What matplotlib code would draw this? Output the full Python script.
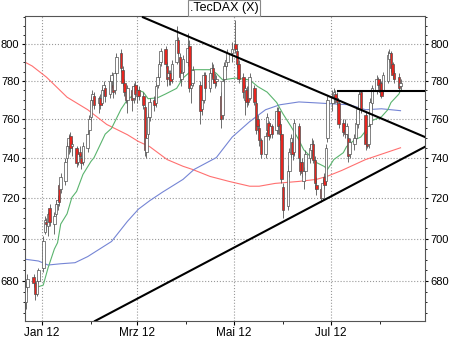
import matplotlib
matplotlib.use('Agg')
import matplotlib.pyplot as plt
import matplotlib.dates as mdates
import matplotlib.ticker as mticker
import pandas as pd

plt.rcParams['font.family'] = ['Liberation Sans', 'DejaVu Sans']

# trading days (Xetra holidays removed)
holidays = ['2011-12-26', '2012-04-06', '2012-04-09', '2012-05-01']

# daily OHLC, Dec 22 2011 .. Aug 14 2012, one line per month
opens = [670, 677, 682, 679, 674, 680,
         686, 703, 708, 706, 715, 707, 712, 717, 726, 724, 728, 740, 746, 751, 746, 745, 738, 743, 740, 738, 745, 754,
         761, 770, 772, 768, 771, 768, 775, 776, 773, 780, 778, 775, 784, 795, 786, 779, 774, 770, 775, 771, 778,
         772, 775, 772, 766, 743, 752, 761, 770, 768, 778, 782, 790, 797, 788, 782, 784, 781, 790, 802, 793, 781, 785,
         790, 799, 776, 779, 778, 765, 770, 783, 776, 784, 787, 781, 780, 772, 762, 781, 788, 790, 795,
         800, 796, 789, 782, 770, 775, 775, 771, 776, 768, 760, 755, 749, 742, 754, 758, 752, 756, 754, 764, 757, 752,
         725, 716, 733, 742, 748, 743, 756, 738, 738, 728, 733, 740, 744, 747, 739, 726, 724, 720, 730, 728, 750,
         768, 772, 773, 771, 768, 758, 754, 752, 750, 742, 747, 750, 757, 765, 774, 762, 752, 747, 757, 768, 775, 781,
         779, 779, 775, 780, 792, 795, 789, 784, 782, 777]
highs = [680, 683, 683, 680, 681, 686,
         701, 711, 710, 713, 717, 713, 719, 721, 727, 732, 740, 748, 752, 753, 749, 746, 744, 746, 742, 748, 754, 762,
         772, 775, 774, 772, 773, 777, 780, 778, 782, 785, 781, 786, 795, 797, 788, 781, 776, 778, 777, 779, 780,
         778, 777, 774, 767, 752, 763, 771, 772, 779, 784, 791, 798, 799, 790, 786, 786, 791, 810, 804, 795, 786, 794,
         806, 802, 779, 788, 780, 772, 785, 785, 786, 790, 789, 784, 783, 774, 782, 790, 793, 797, 801,
         813, 798, 791, 784, 778, 777, 777, 784, 778, 770, 762, 757, 750, 753, 763, 759, 758, 757, 766, 766, 759, 754,
         727, 736, 745, 752, 751, 760, 758, 740, 740, 735, 744, 747, 750, 749, 741, 730, 725, 729, 732, 747, 772,
         775, 776, 775, 774, 770, 760, 760, 758, 752, 750, 752, 760, 767, 775, 775, 764, 754, 758, 771, 778, 783, 782,
         781, 780, 785, 796, 797, 796, 790, 786, 784, 781]
lows = [667, 675, 677, 671, 673, 679,
        684, 702, 704, 701, 706, 702, 711, 714, 716, 722, 726, 738, 742, 743, 741, 735, 736, 740, 734, 736, 743, 752,
        759, 766, 765, 763, 765, 767, 772, 769, 771, 776, 771, 773, 783, 785, 777, 772, 768, 763, 764, 768, 770,
        768, 770, 765, 741, 740, 750, 759, 764, 766, 776, 780, 788, 787, 777, 778, 778, 779, 789, 794, 780, 777, 783,
        788, 774, 768, 777, 757, 762, 768, 774, 774, 782, 779, 776, 777, 755, 760, 779, 786, 788, 790,
        795, 787, 779, 771, 762, 766, 767, 770, 767, 752, 753, 746, 740, 740, 752, 749, 750, 750, 752, 752, 749, 727,
        710, 714, 730, 740, 739, 741, 738, 731, 730, 724, 731, 737, 741, 737, 724, 721, 718, 719, 724, 726, 748,
        764, 768, 768, 767, 755, 751, 750, 750, 738, 740, 744, 748, 755, 763, 763, 744, 745, 745, 755, 765, 773, 776,
        772, 771, 773, 779, 790, 785, 781, 779, 774, 775]
closes = [677, 681, 679, 674, 680, 685,
          699, 709, 707, 712, 708, 711, 717, 719, 718, 730, 738, 746, 750, 745, 747, 737, 742, 741, 737, 746, 752, 760,
          770, 773, 767, 771, 767, 775, 778, 772, 780, 783, 774, 784, 793, 787, 779, 774, 770, 776, 770, 777, 773,
          775, 772, 767, 744, 750, 761, 769, 767, 777, 782, 789, 796, 789, 781, 784, 780, 789, 802, 795, 782, 784, 792,
          798, 776, 778, 786, 764, 770, 783, 776, 784, 787, 781, 779, 781, 760, 780, 788, 791, 795, 797,
          797, 789, 781, 774, 776, 769, 769, 782, 769, 754, 756, 749, 742, 751, 761, 751, 756, 752, 764, 756, 752, 729,
          714, 733, 743, 750, 742, 758, 740, 733, 732, 733, 742, 745, 747, 739, 727, 724, 720, 727, 726, 745, 770,
          772, 774, 771, 769, 757, 753, 752, 756, 741, 748, 750, 758, 765, 773, 765, 747, 746, 756, 769, 776, 781, 778,
          774, 772, 783, 794, 795, 787, 783, 781, 776, 779]

# moving averages
ma_short_dates = ['2011-12-29', '2012-01-02', '2012-01-05', '2012-01-09', '2012-01-11', '2012-01-13', '2012-01-17',
                  '2012-01-20', '2012-01-23', '2012-01-27', '2012-02-01', '2012-02-03', '2012-02-10', '2012-02-14',
                  '2012-02-20', '2012-02-24', '2012-02-28', '2012-03-02', '2012-03-05', '2012-03-08', '2012-03-14',
                  '2012-03-19', '2012-03-26', '2012-03-30', '2012-04-05', '2012-04-12', '2012-04-17', '2012-04-20',
                  '2012-04-24', '2012-05-02', '2012-05-11', '2012-05-16', '2012-05-22', '2012-05-28', '2012-06-01',
                  '2012-06-06', '2012-06-11', '2012-06-14', '2012-06-19', '2012-06-22', '2012-06-27', '2012-06-29',
                  '2012-07-03', '2012-07-09', '2012-07-11', '2012-07-16', '2012-07-20', '2012-07-25', '2012-07-27',
                  '2012-08-02', '2012-08-06', '2012-08-08', '2012-08-13', '2012-08-14']
ma_short = [677, 678, 686, 695, 698, 707, 712, 720, 723, 731.5, 738, 740, 752, 755, 765, 770, 772.6, 775, 774, 770.5,
            771, 773, 776, 781.5, 786, 786, 786, 784, 780.5, 781.5, 780.5, 777, 774, 768.5, 762.5, 756, 749, 744, 740,
            737.5, 735.5, 734, 739, 742.5, 745.6, 749, 750.5, 755.8, 759, 761, 764.7, 768.5, 773, 775]

ma_mid_dates = ['2011-12-21', '2011-12-30', '2012-01-05', '2012-01-13', '2012-01-22', '2012-01-30', '2012-02-14',
                '2012-02-24', '2012-03-02', '2012-03-09', '2012-03-17', '2012-03-30', '2012-04-06', '2012-04-20',
                '2012-04-30', '2012-05-11', '2012-05-21', '2012-05-30', '2012-06-11', '2012-06-22', '2012-07-02',
                '2012-07-13', '2012-07-23', '2012-08-02', '2012-08-14']
ma_mid = [690.2, 689.3, 687.4, 688, 688.5, 691.4, 698.6, 708.3, 714.3, 718.4, 722.6, 729, 734, 740, 750.5, 758.5,
          764.7, 767.3, 768.8, 768.3, 767.8, 767.3, 764.7, 765.2, 764.2]

ma_long_dates = ['2011-12-21', '2011-12-26', '2012-01-04', '2012-01-17', '2012-01-30', '2012-02-11', '2012-02-24',
                 '2012-03-02', '2012-03-09', '2012-03-20', '2012-03-30', '2012-04-05', '2012-04-16', '2012-04-28',
                 '2012-05-11', '2012-05-17', '2012-05-27', '2012-06-11', '2012-06-22', '2012-06-29', '2012-07-08',
                 '2012-07-23', '2012-08-14']
ma_long = [790.3, 788, 782, 771.3, 764.7, 757, 751.7, 748.2, 745.6, 739, 735.6, 734, 730.5, 728, 725.6, 725.6, 727,
           728, 729, 730.6, 733.5, 739, 745]

# trend lines (date, level) and resistance
upper_line = [('2012-03-04 19:00', 814.8), ('2012-08-29 10:00', 750.5)]
lower_line = [('2012-02-03 14:00', 661.5), ('2012-08-29 10:00', 745.5)]
resistance_start = '2012-07-05 14:00'
resistance = 774.5

tick_dates = ['2012-01-01', '2012-03-01', '2012-05-01', '2012-07-01']
tick_labels = ['Jan 12', 'Mrz 12', 'Mai 12', 'Jul 12']

days = pd.bdate_range('2011-12-22', '2012-08-14')
days = days[~days.isin(pd.to_datetime(holidays))]
x = mdates.date2num(days.to_pydatetime())
o = pd.Series(opens, dtype=float)
c = pd.Series(closes, dtype=float)

fig = plt.figure(figsize=(4.5, 3.38), dpi=100)
ax = fig.add_axes([25 / 450, 17 / 338, 400 / 450, 305 / 338])
ax.set_yscale('log')

# moving averages
ax.plot(mdates.datestr2num(ma_long_dates), ma_long, color='#ff7070', lw=0.8, zorder=2)
ax.plot(mdates.datestr2num(ma_mid_dates), ma_mid, color='#7585d5', lw=0.8, zorder=2)
ax.plot(mdates.datestr2num(ma_short_dates), ma_short, color='#5ab46e', lw=0.8, zorder=2)

# candles
up = c >= o
body_col = ['white' if u else '#e8251f' for u in up]
ax.vlines(x, lows, highs, color='#555555', lw=0.6, zorder=3)
ax.bar(x, (c - o).abs(), bottom=pd.concat([o, c], axis=1).min(axis=1), width=1.6,
       color=body_col, edgecolor='#505050', linewidth=0.5, zorder=4)

# trend lines
for line in (upper_line, lower_line):
    ax.plot(mdates.datestr2num([p[0] for p in line]), [p[1] for p in line], color='black', lw=1.5, zorder=5)
x0, x1 = mdates.datestr2num(['2011-12-21 12:00', '2012-08-29 10:00'])
ax.plot([mdates.datestr2num(resistance_start), x1], [resistance, resistance], color='black', lw=1.5, zorder=5)

ax.set_xlim(x0, x1)
ax.set_ylim(661.5, 815.5)

ax.yaxis.set_major_locator(mticker.MultipleLocator(20))
ax.yaxis.set_minor_locator(mticker.MultipleLocator(5))
ax.yaxis.set_major_formatter(mticker.FormatStrFormatter('%d'))
ax.yaxis.set_minor_formatter(mticker.NullFormatter())
ax.set_xticks(mdates.datestr2num(tick_dates))
ax.set_xticklabels(tick_labels)
ax.xaxis.set_minor_locator(mdates.MonthLocator())

ax.tick_params(axis='y', which='both', left=True, right=True, labelleft=True, labelright=True,
               direction='out', labelsize=8, colors='#000000', pad=1.5)
ax.tick_params(axis='y', which='major', length=2.5)
ax.tick_params(axis='y', which='minor', length=1.5)
ax.tick_params(axis='x', which='major', length=3, labelsize=8.5, pad=1)
ax.tick_params(axis='x', which='minor', length=2)
ax.grid(True, which='major', linestyle=':', color='#999999', lw=0.8)
for s in ax.spines.values():
    s.set_color('#555555')
    s.set_linewidth(0.8)

fig.text(224 / 450, 1 - 8 / 338, '.TecDAX (X)', ha='center', va='center', fontsize=9,
         bbox=dict(boxstyle='square,pad=0.15', fc='white', ec='#888888', lw=0.8))

fig.savefig('out.png', dpi=100)
